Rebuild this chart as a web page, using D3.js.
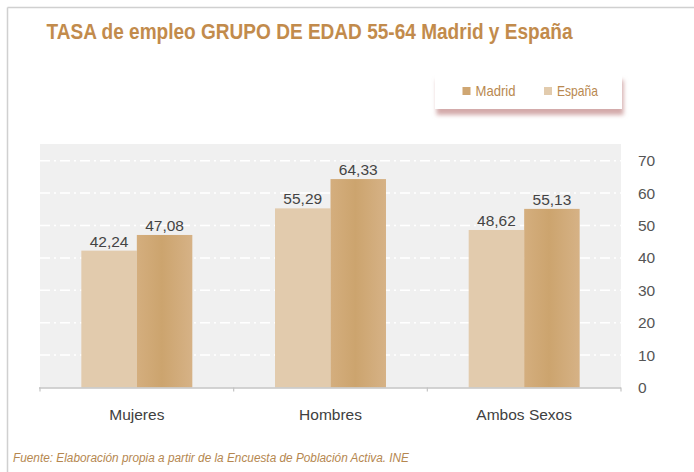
<!DOCTYPE html>
<html><head><meta charset="utf-8">
<script src="https://cdn.jsdelivr.net/npm/d3@7"></script>
<style>
html,body{margin:0;padding:0;background:#fff;}
svg{display:block;}
</style></head>
<body>
<svg id="chart" width="694" height="472"></svg>
<script>
const categories = ["Mujeres", "Hombres", "Ambos Sexos"];
const seriesNames = ["España", "Madrid"];
const espana = [42.24, 55.29, 48.62];
const madrid = [47.08, 64.33, 55.13];
const yTicks = [0, 10, 20, 30, 40, 50, 60, 70];
const legendOrder = ["Madrid", "España"];
const title = "TASA de empleo GRUPO DE EDAD 55-64 Madrid y España";
const source = "Fuente: Elaboración propia a partir de la Encuesta de Población Activa. INE";

const seriesValues = {"España": espana, "Madrid": madrid};
const fmt = v => d3.format(".2f")(v).replace(".", ",");

const svg = d3.select("#chart");
const defs = svg.append("defs");
const grad = defs.append("linearGradient").attr("id","gDark").attr("x1","0").attr("x2","1").attr("y1","0").attr("y2","0");
grad.append("stop").attr("offset","0%").attr("stop-color","#d4ae7e");
grad.append("stop").attr("offset","45%").attr("stop-color","#cca46e");
grad.append("stop").attr("offset","100%").attr("stop-color","#d6b286");
const filt = defs.append("filter").attr("id","shadow").attr("x","-10%").attr("y","-30%").attr("width","120%").attr("height","180%");
filt.append("feDropShadow").attr("dx",1.5).attr("dy",6).attr("stdDeviation",2.2)
  .attr("flood-color","#c48e8f").attr("flood-opacity",0.75);

const color = {"España": "#e2cbad", "Madrid": "url(#gDark)"};
const swatch = {"España": "#e2cbad", "Madrid": "#cfa672"};

// outer frame
svg.append("line").attr("x1",7.5).attr("x2",694).attr("y1",7.5).attr("y2",7.5).attr("stroke","#d0d0d0").attr("stroke-width",1.5);
svg.append("line").attr("x1",7.5).attr("x2",7.5).attr("y1",7.5).attr("y2",472).attr("stroke","#d0d0d0").attr("stroke-width",1.5);

// title
svg.append("text").attr("x",46.5).attr("y",38.5).text(title)
  .attr("font-family","'Liberation Sans Narrow','Arial Narrow','Liberation Sans',sans-serif")
  .attr("font-weight","bold").attr("font-size",22).attr("fill","#c28b4c")
  .attr("textLength",526).attr("lengthAdjust","spacingAndGlyphs");

// scales
const plotL = 40, plotR = 621, plotT = 144, plotB = 387.5;
const x0 = d3.scaleBand().domain(categories).range([plotL, plotR]).paddingInner(0).paddingOuter(0);
const x1 = d3.scaleBand().domain(seriesNames).range([0, x0.bandwidth()]).paddingInner(0).paddingOuter(0.745);
const y = d3.scaleLinear().domain([0, 70]).range([plotB, 160.7]);

// plot background
svg.append("rect").attr("x",plotL).attr("y",plotT).attr("width",plotR-plotL).attr("height",plotB-plotT).attr("fill","#f0f0f0");

// gridlines
svg.append("g").selectAll("line").data(yTicks.filter(d=>d>0)).join("line")
  .attr("x1",plotL).attr("x2",plotR).attr("y1",d=>y(d)).attr("y2",d=>y(d))
  .attr("stroke","#ffffff").attr("stroke-width",1.5).attr("stroke-dasharray","10,4,2,4");

// bars
const groups = svg.append("g").selectAll("g").data(categories).join("g")
  .attr("transform", c => `translate(${x0(c)},0)`);
groups.selectAll("rect").data((c,i) => seriesNames.map(s => ({s, v: seriesValues[s][i]}))).join("rect")
  .attr("x", d => x1(d.s)).attr("width", x1.bandwidth())
  .attr("y", d => y(d.v)).attr("height", d => y(0) - y(d.v))
  .attr("fill", d => color[d.s]);
groups.selectAll("text").data((c,i) => seriesNames.map(s => ({s, v: seriesValues[s][i]}))).join("text")
  .attr("x", d => x1(d.s) + x1.bandwidth()/2).attr("y", d => y(d.v) - 4)
  .attr("text-anchor","middle").attr("font-family","'Liberation Sans',Arial,sans-serif")
  .attr("font-size",15.5).attr("fill","#444").text(d => fmt(d.v));

// x axis
const xAxis = d3.axisBottom(x0).tickSize(0).tickPadding(0);
const gx = svg.append("g").attr("transform",`translate(0,${plotB})`);
gx.append("line").attr("x1",plotL-1).attr("x2",plotR).attr("y1",0.5).attr("y2",0.5).attr("stroke","#c4c4c4").attr("stroke-width",1.5);
gx.selectAll("line.tk").data(categories.map(c=>x0(c)).concat([plotR])).join("line").attr("class","tk")
  .attr("x1",d=>d).attr("x2",d=>d).attr("y1",0).attr("y2",4).attr("stroke","#c4c4c4").attr("stroke-width",1.2);
const gxl = svg.append("g").attr("transform",`translate(0,${plotB})`).call(xAxis);
gxl.select(".domain").remove();
gxl.selectAll("text").attr("dy",null).attr("y",32).attr("font-family","'Liberation Sans',Arial,sans-serif")
  .attr("font-size",15.5).attr("fill","#404040");

// y axis on right
const yAxis = d3.axisRight(y).tickValues(yTicks).tickSize(0).tickPadding(0).tickFormat(d3.format("d"));
const gy = svg.append("g").attr("transform","translate(638,0)").call(yAxis);
gy.select(".domain").remove();
gy.selectAll("text").attr("font-family","'Liberation Sans',Arial,sans-serif").attr("font-size",15.5).attr("fill","#555").attr("x",0);

// legend
const lg = svg.append("g");
lg.append("rect").attr("x",435).attr("y",74).attr("width",187).attr("height",35).attr("fill","#fff").attr("filter","url(#shadow)");
const legPos = {"Madrid": 462.5, "España": 544};
legendOrder.forEach(s => {
  lg.append("rect").attr("x",legPos[s]).attr("y",87).attr("width",8).attr("height",8).attr("fill",swatch[s]);
  lg.append("text").attr("x",legPos[s]+13).attr("y",96).text(s)
    .attr("font-family","'Liberation Sans Narrow','Arial Narrow','Liberation Sans',sans-serif")
    .attr("font-size",15).attr("fill","#b98950")
    .attr("textLength", s==="Madrid"?40:41).attr("lengthAdjust","spacingAndGlyphs");
});

// source
svg.append("text").attr("x",13).attr("y",461.5).text(source)
  .attr("font-family","'Liberation Sans Narrow','Arial Narrow','Liberation Sans',sans-serif")
  .attr("font-style","italic").attr("font-size",12).attr("fill","#b5874f")
  .attr("textLength",396).attr("lengthAdjust","spacingAndGlyphs");
</script>
</body></html>
